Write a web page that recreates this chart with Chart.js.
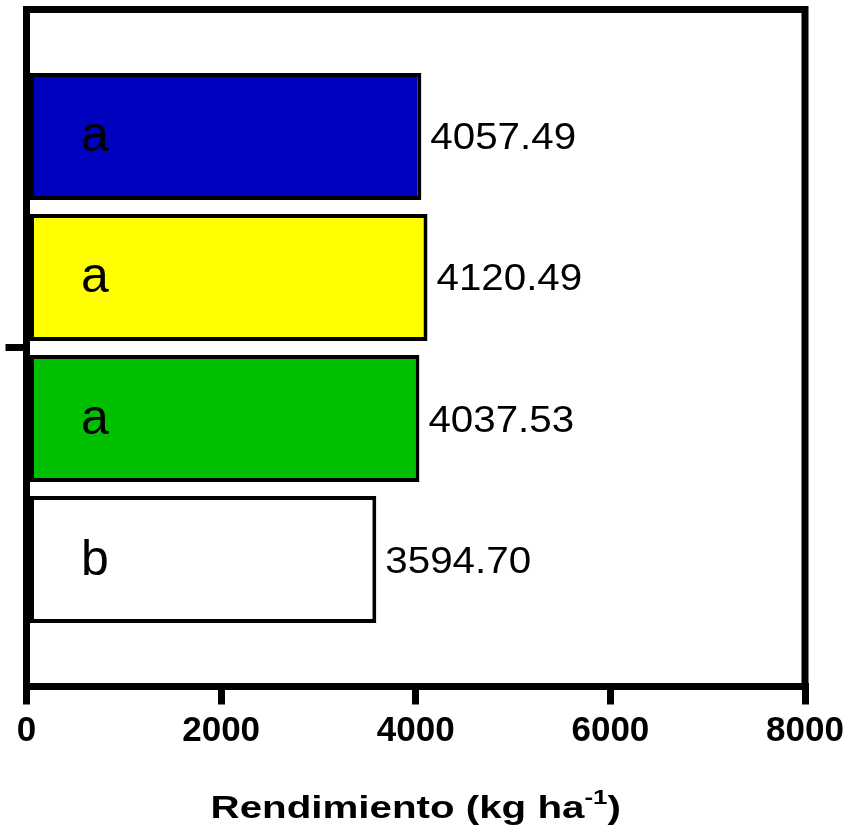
<!DOCTYPE html>
<html>
<head>
<meta charset="utf-8">
<script src="https://cdn.jsdelivr.net/npm/chart.js@4"></script>
<style>
  body { margin: 0; background: #fff; }
</style>
</head>
<body>
<canvas id="rendChart" width="851" height="829"></canvas>
<script>
// Datos del gráfico
const categorias = [1, 2, 3, 4];                       // posición de cada barra
const rendimiento = [4057.49, 4120.49, 4037.53, 3594.70];
const letras = ['a', 'a', 'a', 'b'];                    // grupos estadísticos
const colores = ['#0000bf', '#ffff00', '#00bf00', '#ffffff'];
const ticksX = [0, 2000, 4000, 6000, 8000];
const tituloX = 'Rendimiento (kg ha';
const superX = '-1';

const FONT = "'Liberation Sans', Arial, sans-serif";

// Marco, etiquetas de valor y letras
const etiquetas = {
    id: 'etiquetas',
    afterDraw(chart) {
        const ctx = chart.ctx;
        const a = chart.chartArea;
        const xs = chart.scales.x;
        ctx.save();
        ctx.strokeStyle = '#000';
        ctx.lineWidth = 7;
        ctx.lineJoin = 'miter';
        ctx.strokeRect(a.left, a.top, a.right - a.left, a.bottom - a.top);

        const meta = chart.getDatasetMeta(0);
        meta.data.forEach((bar, i) => {
            // valor a la derecha de la barra
            ctx.save();
            ctx.fillStyle = '#000';
            ctx.font = '36px ' + FONT;
            ctx.textAlign = 'left';
            ctx.textBaseline = 'alphabetic';
            ctx.translate(bar.x + 9, bar.y + 13);
            ctx.scale(1.12, 1);
            ctx.fillText(rendimiento[i].toFixed(2), 0, 0);
            ctx.restore();

            // letra dentro de la barra
            ctx.save();
            ctx.fillStyle = '#000';
            ctx.font = '50px ' + FONT;
            ctx.textAlign = 'left';
            ctx.textBaseline = 'alphabetic';
            ctx.fillText(letras[i], xs.getPixelForValue(560), bar.y + 15);
            ctx.restore();
        });

        // título del eje x con superíndice
        ctx.save();
        ctx.fillStyle = '#000';
        ctx.textBaseline = 'alphabetic';
        const sx = 1.3;
        ctx.font = 'bold 31px ' + FONT;
        const w1 = ctx.measureText(tituloX).width;
        ctx.font = 'bold 20px ' + FONT;
        const w2 = ctx.measureText(superX).width;
        ctx.font = 'bold 31px ' + FONT;
        const w3 = ctx.measureText(')').width;
        const total = (w1 + w2 + w3) * sx;
        const cx = (a.left + a.right) / 2;
        ctx.translate(cx - total / 2, 818);
        ctx.scale(sx, 1);
        ctx.fillText(tituloX, 0, 0);
        ctx.font = 'bold 20px ' + FONT;
        ctx.fillText(superX, w1, -14);
        ctx.font = 'bold 31px ' + FONT;
        ctx.fillText(')', w1 + w2, 0);
        ctx.restore();

        ctx.restore();
    }
};

const config = {
    type: 'bar',
    data: {
        labels: categorias,
        datasets: [{
            data: categorias.map((c, i) => ({ x: rendimiento[i], y: c })),
            backgroundColor: colores,
            borderColor: '#000',
            borderWidth: 4,
            borderSkipped: false,
            barPercentage: 0.9,
            categoryPercentage: 1
        }]
    },
    options: {
        indexAxis: 'y',
        responsive: false,
        animation: false,
        layout: { padding: { top: 9.5, right: 46, left: 0, bottom: 0 } },
        plugins: {
            legend: { display: false },
            tooltip: { enabled: false }
        },
        scales: {
            x: {
                type: 'linear',
                min: 0,
                max: 8000,
                offset: false,
                afterBuildTicks: (s) => { s.ticks = ticksX.map(v => ({ value: v })); },
                afterFit: (s) => { s.height = 142.5; },
                border: { display: true, color: '#000', width: 7 },
                grid: { offset: false, drawOnChartArea: false, drawTicks: true, tickLength: 18, lineWidth: 7, color: '#000' },
                ticks: {
                    color: '#000',
                    padding: 6,
                    maxRotation: 0,
                    callback: (v) => String(v),
                    font: { family: FONT, size: 35, weight: 'bold' }
                }
            },
            y: {
                type: 'linear',
                reverse: true,
                min: 0.1,
                max: 4.9,
                offset: false,
                afterBuildTicks: (s) => { s.ticks = [{ value: 2.5 }]; },
                afterFit: (s) => { s.width = 26.5; },
                border: { display: true, color: '#000', width: 7 },
                grid: { offset: false, drawOnChartArea: false, drawTicks: true, tickLength: 21, lineWidth: 7, color: '#000' },
                ticks: { callback: () => '', padding: 0 }
            }
        }
    },
    plugins: [etiquetas]
};

const rendChart = new Chart(document.getElementById('rendChart'), config);
</script>
</body>
</html>
